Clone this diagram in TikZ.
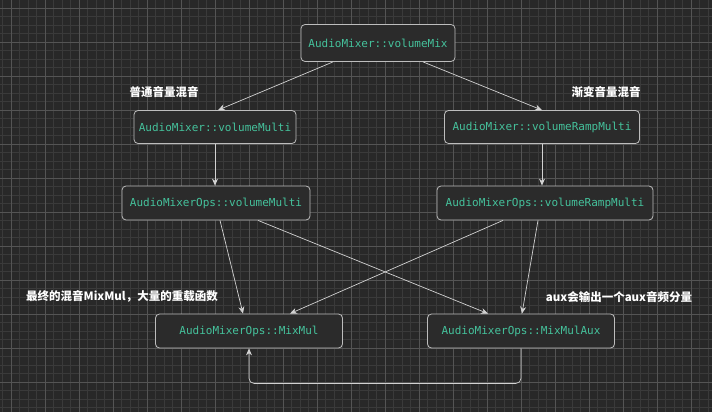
\documentclass[tikz,border=0pt]{standalone}
\usepackage{fontspec}
\setmonofont{DejaVu Sans Mono}
\newfontfamily\cjk{Noto Sans CJK SC}
\usetikzlibrary{arrows.meta,positioning,calc}

\definecolor{bgcol}{HTML}{282828}
\definecolor{minorcol}{HTML}{3A3A3A}
\definecolor{majorcol}{HTML}{545454}
\definecolor{boxcol}{HTML}{2B2B2B}
\definecolor{edgecol}{HTML}{BDBDBD}
\definecolor{codecol}{HTML}{45C29C}
\definecolor{linecol}{HTML}{D2D2D2}

\begin{document}
\begin{tikzpicture}[x=1pt, y=-1pt,
  box/.style={draw=edgecol, fill=boxcol, line width=0.8pt, rounded corners=4pt, text=codecol,
    font=\ttfamily\fontsize{11}{13}\selectfont, inner sep=4pt},
  note/.style={text=white, font=\cjk\bfseries\fontsize{11.5}{13}\selectfont, inner sep=1pt},
  arr/.style={-{Stealth[length=7pt,width=6pt]}, draw=linecol, line width=0.7pt}]
% background and grid
\useasboundingbox (0,0) rectangle (712,412);
\fill[bgcol] (0,0) rectangle (712,412);
\foreach \x in {2.5,11,...,712} \draw[minorcol, line width=0.5pt] (\x,0) -- (\x,412);
\foreach \y in {-0.5,8,...,412} \draw[minorcol, line width=0.5pt] (0,\y) -- (712,\y);
\foreach \x in {11,45,...,712} \draw[majorcol, line width=0.7pt] (\x,0) -- (\x,412);
\foreach \y in {8,42,...,412} \draw[majorcol, line width=0.7pt] (0,\y) -- (712,\y);
% functions
\node[box, minimum width=154pt, minimum height=37pt] (mix) at (378,43) {AudioMixer::volumeMix};
\node[box, minimum width=162pt, minimum height=33pt] (multi) at (215,127) {AudioMixer::volumeMulti};
\node[box, minimum width=195pt, minimum height=33pt] (ramp) at (542,127) {AudioMixer::volumeRampMulti};
\node[box, minimum width=188pt, minimum height=34pt] (opsmulti) at (216,203) {AudioMixerOps::volumeMulti};
\node[box, minimum width=216pt, minimum height=34pt] (opsramp) at (545,203) {AudioMixerOps::volumeRampMulti};
\node[box, minimum width=187pt, minimum height=34pt] (mixmul) at (249,331) {AudioMixerOps::MixMul};
\node[box, minimum width=187pt, minimum height=34pt] (mixaux) at (521,331) {AudioMixerOps::MixMulAux};
% notes
\node[note] (lblmulti) at (164,92) {普通音量混音};
\node[note] (lblramp) at (606,92) {渐变音量混音};
\node[note] (lblmixmul) at (122,296) {最终的混音MixMul，大量的重载函数};
\node[note] (lblaux) at (619,297) {aux会输出一个aux音频分量};
% calls
\draw[arr] ([xshift=-45pt]mix.south) -- ([xshift=3pt]multi.north);
\draw[arr] ([xshift=45pt]mix.south) -- (ramp.north);
\draw[arr] (multi.south) -- (multi.south |- opsmulti.north);
\draw[arr] (ramp.south) -- (ramp.south |- opsramp.north);
\draw[arr] ([xshift=4pt]opsmulti.south) -- ([xshift=-6pt]mixmul.north);
\draw[arr] ([xshift=42pt]opsmulti.south) -- ([xshift=-33pt]mixaux.north);
\draw[arr] ([xshift=-42pt]opsramp.south) -- ([xshift=41pt]mixmul.north);
\draw[arr] ([xshift=-7pt]opsramp.south) -- ([xshift=1pt]mixaux.north);
\draw[arr, rounded corners=5pt] (mixaux.south) -- ++(0,35) -| (mixmul.south);
\end{tikzpicture}
\end{document}
